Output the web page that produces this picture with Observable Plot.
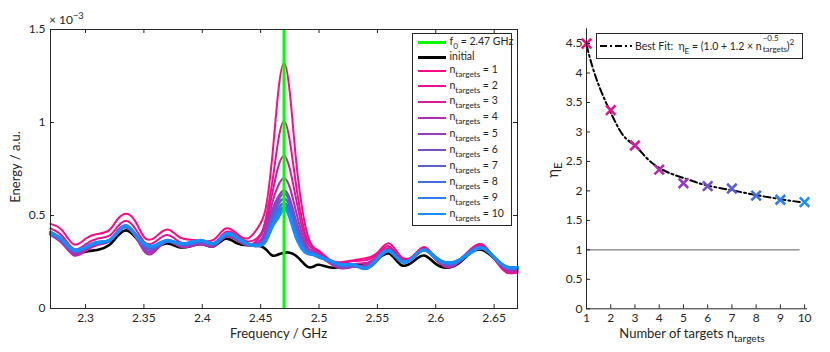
<!DOCTYPE html>
<html><head><meta charset="utf-8">
<script src="https://cdn.jsdelivr.net/npm/d3@7"></script>
<script src="https://cdn.jsdelivr.net/npm/@observablehq/plot@0.6"></script>
<style>
body{margin:0;background:#fff;}
#wrap{position:relative;width:830px;height:352px;font-family:Lato,sans-serif;color:#262626;overflow:hidden;}
#left,#right{position:absolute;top:0;}
#left{left:0}#right{left:520px}
.t{position:absolute;white-space:nowrap;line-height:1;}
.sub{position:relative;top:4px;font-size:0.78em;}
.sup{position:relative;top:-5px;font-size:0.78em;}
.lg{position:absolute;border:1px solid #262626;background:#fff;}
.ls{position:absolute;}
</style></head><body>
<div id="wrap"><div id="left"></div><div id="right"></div></div>
<script>
// ---- Left chart data (energy, units of 1e-3) ----
const freq = [2.27,2.28,2.29,2.30,2.31,2.32,2.3275,2.335,2.3425,2.35,2.355,2.36,2.37,2.38,2.39,2.40,2.41,2.42,2.43,2.44,
  2.45,2.455,2.46,2.465,2.47,2.475,2.48,2.485,2.49,2.495,2.50,2.51,2.52,2.53,2.54,2.55,2.56,2.57,2.58,2.59,2.60,2.61,2.62,2.63,2.64,2.65,2.66,2.67];
const f0 = 2.47;
const initial = [0.40,0.36,0.30,0.305,0.315,0.34,0.39,0.42,0.385,0.335,0.325,0.33,0.35,0.33,0.335,0.345,0.335,0.375,0.35,0.34,
  0.335,0.315,0.285,0.29,0.30,0.30,0.285,0.255,0.225,0.225,0.235,0.22,0.225,0.235,0.24,0.265,0.295,0.235,0.25,0.285,0.24,0.22,0.245,0.30,0.315,0.27,0.225,0.22];
const n1 = [0.455,0.42,0.345,0.375,0.40,0.42,0.48,0.51,0.47,0.385,0.37,0.385,0.425,0.385,0.37,0.365,0.37,0.43,0.40,0.38,
  0.46,0.56,0.82,1.16,1.32,1.16,0.82,0.56,0.40,0.33,0.31,0.26,0.25,0.26,0.27,0.30,0.35,0.28,0.28,0.33,0.27,0.23,0.26,0.32,0.345,0.27,0.195,0.195];
const n2 = [0.43,0.39,0.32,0.345,0.375,0.39,0.44,0.47,0.43,0.36,0.345,0.36,0.395,0.36,0.35,0.355,0.35,0.41,0.39,0.36,
  0.40,0.50,0.68,0.90,1.005,0.90,0.68,0.49,0.37,0.33,0.30,0.255,0.245,0.255,0.26,0.29,0.335,0.27,0.275,0.325,0.265,0.225,0.255,0.315,0.34,0.27,0.20,0.195];
const n3 = [0.40,0.355,0.285,0.31,0.34,0.36,0.42,0.445,0.40,0.32,0.30,0.32,0.37,0.34,0.335,0.345,0.335,0.39,0.37,0.34,
  0.39,0.47,0.62,0.76,0.82,0.75,0.60,0.45,0.35,0.32,0.29,0.245,0.225,0.24,0.245,0.28,0.325,0.265,0.27,0.32,0.265,0.22,0.25,0.31,0.335,0.27,0.205,0.20];
const n4 = [0.395,0.35,0.29,0.315,0.345,0.36,0.415,0.44,0.39,0.31,0.29,0.31,0.36,0.335,0.335,0.345,0.335,0.385,0.365,0.34,
  0.37,0.44,0.57,0.66,0.70,0.65,0.53,0.41,0.33,0.31,0.285,0.24,0.215,0.225,0.235,0.275,0.32,0.26,0.27,0.315,0.265,0.225,0.25,0.31,0.33,0.275,0.21,0.205];
const n5 = [0.40,0.355,0.30,0.32,0.35,0.36,0.41,0.435,0.39,0.32,0.305,0.32,0.36,0.34,0.34,0.35,0.34,0.385,0.37,0.34,
  0.355,0.42,0.53,0.60,0.635,0.59,0.48,0.38,0.315,0.30,0.28,0.245,0.22,0.225,0.225,0.27,0.315,0.26,0.27,0.315,0.265,0.23,0.25,0.305,0.325,0.275,0.215,0.21];
const n6 = [0.40,0.36,0.305,0.325,0.35,0.365,0.41,0.44,0.395,0.33,0.315,0.325,0.36,0.345,0.345,0.355,0.345,0.39,0.375,0.34,
  0.35,0.41,0.51,0.58,0.62,0.57,0.46,0.37,0.31,0.295,0.28,0.25,0.225,0.23,0.22,0.265,0.31,0.255,0.27,0.315,0.27,0.235,0.255,0.305,0.325,0.275,0.22,0.215];
const n7 = [0.405,0.365,0.31,0.325,0.35,0.365,0.41,0.44,0.395,0.34,0.325,0.33,0.36,0.345,0.35,0.36,0.345,0.395,0.375,0.34,
  0.345,0.395,0.49,0.56,0.59,0.55,0.44,0.355,0.305,0.295,0.28,0.25,0.23,0.23,0.215,0.26,0.31,0.255,0.27,0.315,0.27,0.24,0.255,0.305,0.325,0.275,0.22,0.215];
const n8 = [0.405,0.365,0.31,0.33,0.355,0.365,0.41,0.44,0.40,0.345,0.33,0.335,0.365,0.35,0.35,0.36,0.35,0.395,0.38,0.345,
  0.34,0.385,0.47,0.535,0.565,0.525,0.42,0.345,0.30,0.29,0.28,0.255,0.235,0.235,0.215,0.26,0.31,0.255,0.27,0.315,0.275,0.245,0.26,0.31,0.325,0.275,0.225,0.22];
const n9 = [0.41,0.37,0.315,0.33,0.355,0.365,0.41,0.445,0.40,0.35,0.335,0.34,0.365,0.35,0.355,0.365,0.35,0.40,0.38,0.345,
  0.34,0.375,0.45,0.515,0.545,0.505,0.405,0.335,0.30,0.29,0.275,0.255,0.235,0.235,0.215,0.265,0.31,0.255,0.27,0.315,0.275,0.245,0.26,0.305,0.325,0.275,0.225,0.22];
const n10 = [0.41,0.37,0.315,0.33,0.355,0.365,0.41,0.445,0.40,0.35,0.335,0.34,0.365,0.35,0.355,0.365,0.35,0.40,0.38,0.345,
  0.34,0.37,0.44,0.49,0.535,0.49,0.39,0.325,0.295,0.29,0.28,0.255,0.235,0.235,0.215,0.27,0.31,0.255,0.27,0.315,0.27,0.245,0.26,0.30,0.325,0.275,0.225,0.22];
const nSeries = [n1,n2,n3,n4,n5,n6,n7,n8,n9,n10];
const nColors = ["#ff0a82","#ea1290","#d21e9e","#b42daf","#983cbe","#7450cc","#5a5ed8","#3e6ee4","#2a7eef","#168ffa"];
const nWidths = [2,2,2,2.1,2.2,2.3,2.5,2.7,2.9,3.2];
const xTicksL = [2.3,2.35,2.4,2.45,2.5,2.55,2.6,2.65];
const yTicksL = [0,0.5,1,1.5];

// ---- Right chart data ----
const nTargets = [1,2,3,4,5,6,7,8,9,10];
const etaE = [4.5,3.37,2.77,2.36,2.13,2.08,2.04,1.92,1.85,1.81];
const fitN = [1,1.25,1.5,1.75,2,2.5,3,3.5,4,4.5,5,5.5,6,7,8,9,9.8];
const fitEta = [4.47,4.1,3.8,3.55,3.33,2.95,2.77,2.55,2.39,2.29,2.22,2.15,2.09,2.01,1.93,1.86,1.81];
const refX = [1,9.78];
const refY = [1,1];
const xTicksR = [1,2,3,4,5,6,7,8,9,10];
const yTicksR = [0,0.5,1,1.5,2,2.5,3,3.5,4,4.5];

const axisColor = "#262626";
const style = {fontFamily:"Lato, sans-serif", fontSize:"12px", color:axisColor, background:"transparent", overflow:"visible"};

// Left plot
const LW = 520, LH = 352, LmL = 50, LmR = 3, LmT = 29, LmB = 44;
const lInnerW = LW - LmL - LmR, lInnerH = LH - LmT - LmB, tk = 4;
const pts = arr => freq.map((f,i) => ({f, v: arr[i]}));
const leftMarks = [
  Plot.line(pts(initial), {x:"f", y:"v", stroke:"#000", strokeWidth:2.6, curve:"natural"}),
  ...nSeries.map((s,i) => Plot.line(pts(s), {x:"f", y:"v", stroke:nColors[i], strokeWidth:nWidths[i], curve:"natural"})),
  Plot.ruleX([f0], {stroke:"#00ff00", strokeWidth:3}),
  Plot.frame({stroke:axisColor}),
  Plot.ruleX(xTicksL, {stroke:axisColor, insetTop:lInnerH - tk}),
  Plot.ruleX(xTicksL, {stroke:axisColor, insetBottom:lInnerH - tk}),
  Plot.ruleY(yTicksL, {stroke:axisColor, insetRight:lInnerW - tk}),
  Plot.ruleY(yTicksL, {stroke:axisColor, insetLeft:lInnerW - tk}),
  Plot.axisX({ticks:xTicksL, tickSize:0, tickPadding:5, tickFormat:d => String(+d.toFixed(2)), label:null}),
  Plot.axisY({ticks:yTicksL, tickSize:0, tickPadding:5, tickFormat:d => String(d), label:null})
];
const left = Plot.plot({
  width:LW, height:LH, marginLeft:LmL, marginRight:LmR, marginTop:LmT, marginBottom:LmB,
  style, x:{domain:[2.27,2.67]}, y:{domain:[0,1.5]}, marks:leftMarks
});
document.getElementById("left").appendChild(left);

// Right plot
const RW = 310, RH = 352, RmL = 66, RmR = 23, RmT = 28.3, RmB = 43.7;
const rInnerW = RW - RmL - RmR, rInnerH = RH - RmT - RmB;
const right = Plot.plot({
  width:RW, height:RH, marginLeft:RmL, marginRight:RmR, marginTop:RmT, marginBottom:RmB,
  style, x:{domain:[1,10.12]}, y:{domain:[0,4.75]},
  marks:[
    Plot.line(refX.map((x,i)=>({x, y:refY[i]})), {x:"x", y:"y", stroke:"#808080", strokeWidth:1.2}),
    Plot.line(fitN.map((x,i)=>({x, y:fitEta[i]})), {x:"x", y:"y", stroke:"#000", strokeWidth:2, strokeDasharray:"7,3,2,3", curve:"natural"}),
    Plot.dot(nTargets.map((x,i)=>({x, y:etaE[i], c:nColors[i]})), {x:"x", y:"y", stroke:d=>d.c, symbol:"times", r:4.4, strokeWidth:2.6}),
    Plot.ruleX([1], {stroke:axisColor}),
    Plot.ruleY([0], {stroke:axisColor}),
    Plot.ruleX(xTicksR, {stroke:axisColor, insetTop:rInnerH - tk}),
    Plot.ruleY(yTicksR, {stroke:axisColor, insetRight:rInnerW - tk}),
    Plot.axisX({ticks:xTicksR, tickSize:0, tickPadding:5, tickFormat:d => String(d), label:null}),
    Plot.axisY({ticks:yTicksR, tickSize:0, tickPadding:4, tickFormat:d => String(d), label:null})
  ]
});
document.getElementById("right").appendChild(right);

// ---- Text & legends (HTML) ----
const wrap = document.getElementById("wrap");
function addText(html, x, y, opts={}) {
  const d = document.createElement("div");
  d.className = "t";
  d.innerHTML = html;
  d.style.left = x + "px"; d.style.top = y + "px";
  d.style.fontSize = (opts.size || 13) + "px";
  d.style.transform = opts.transform || "translate(-50%,-50%)";
  wrap.appendChild(d);
  return d;
}
addText("Frequency / GHz", 278.5, 333);
addText("Energy / a.u.", 15, 167, {transform:"translate(-50%,-50%) rotate(-90deg)"});
addText("× 10<span class='sup'>−3</span>", 49, 14, {size:12, transform:"none"});
addText("Number of targets n<span class='sub'>targets</span>", 692, 333);
addText("η<span class='sub'>E</span>", 552, 170, {size:15, transform:"translate(-50%,-50%) rotate(-90deg)"});

// left legend
const lg = document.createElement("div");
lg.className = "lg";
Object.assign(lg.style, {left:"412px", top:"33px", width:"98px", height:"191px"});
wrap.appendChild(lg);
const legendRows = [
  {label:"f<span class='sub'>0</span> = 2.47 GHz", color:"#00ff00", w:3, y:42.5},
  {label:"initial", color:"#000", w:3, y:57.3},
  ...nColors.map((c,i)=>({label:"n<span class='sub'>targets</span> = " + (i+1), color:c, w:2.2, y:[70.7,86,101.8,117.7,134,150,166,182.3,198.3,214.3][i]}))
];
legendRows.forEach(r => {
  const l = document.createElement("div");
  l.className = "ls";
  Object.assign(l.style, {left:"418px", width:"28px", top:(r.y - r.w/2) + "px", height:r.w + "px", background:r.color});
  wrap.appendChild(l);
  addText(r.label, 449.5, r.y - 6.5, {size:10.5, transform:"none"});
});

// right legend
const rg = document.createElement("div");
rg.className = "lg";
Object.assign(rg.style, {left:"596px", top:"33px", width:"205px", height:"24px"});
wrap.appendChild(rg);
const ns = "http://www.w3.org/2000/svg";
const sv = document.createElementNS(ns, "svg");
sv.setAttribute("width", 34); sv.setAttribute("height", 6);
Object.assign(sv.style, {position:"absolute", left:"599px", top:"43px"});
const ln = document.createElementNS(ns, "line");
ln.setAttribute("x1", 1); ln.setAttribute("x2", 33); ln.setAttribute("y1", 3); ln.setAttribute("y2", 3);
ln.setAttribute("stroke", "#000"); ln.setAttribute("stroke-width", 2); ln.setAttribute("stroke-dasharray", "7,3,2,3");
sv.appendChild(ln); wrap.appendChild(sv);
addText("Best Fit:&nbsp; η<span class='sub'>E</span> = (1.0 + 1.2 × n<span style='display:inline-block;position:relative;width:25px;height:10px;'><span style='position:absolute;left:1px;top:-6px;font-size:8px'>−0.5</span><span style='position:absolute;left:1px;top:5px;font-size:8px'>targets</span></span>)<span class='sup'>2</span>", 635, 40, {size:10.5, transform:"none"});
</script>
</body></html>
